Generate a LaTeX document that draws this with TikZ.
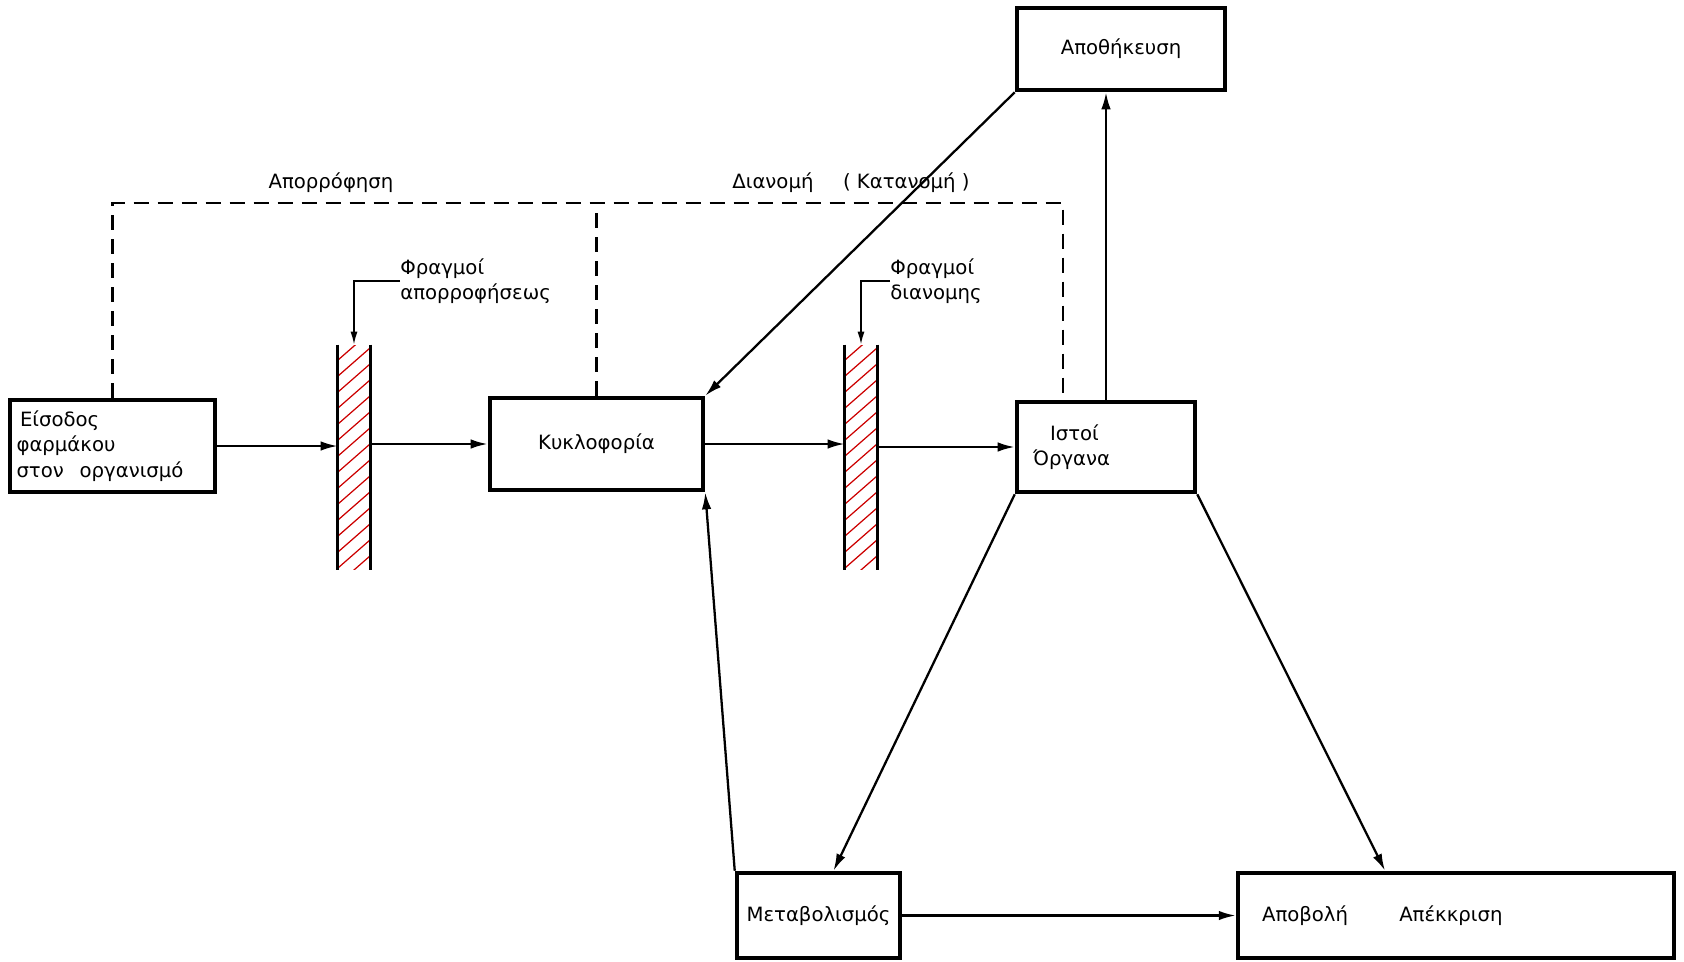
\documentclass[tikz,border=0pt]{standalone}
\usepackage{fontspec}
\setmainfont{DejaVu Sans}
\usetikzlibrary{arrows.meta}

\tikzset{
  >={Latex[length=0.34cm,width=0.19cm]},
  box/.style={draw, line width=2.6pt, inner sep=0pt},
  flow/.style={->, line width=1.3pt},
  lead/.style={-{Latex[length=0.26cm,width=0.14cm]}, line width=1pt},
  link/.style={line width=1.4pt, dash pattern=on 0.3cm off 0.18cm},
  wall/.style={line width=2pt},
  hatch/.style={red!80!black, line width=0.7pt},
  barrier/.style={minimum width=0.64cm, minimum height=4.5cm, inner sep=0pt,
    path picture={\foreach \k in {0,...,16}
      \draw[hatch] ([yshift=\k*0.32cm-0.6cm]path picture bounding box.south west) -- ++(0.64cm,0.56cm);}},
  lbl/.style={inner sep=0pt}
}

\begin{document}
\begin{tikzpicture}[x=0.02cm, y=-0.02cm, font=\fontsize{11.2}{14.5}\selectfont]
\useasboundingbox (0,0) rectangle (1684,961);

% boxes
\node[box, minimum width=4.1cm, minimum height=1.84cm, text width=3.84cm, align=left] (in) at (112.5,446)
  {\hspace*{2pt}Είσοδος\\φαρμάκου\\στον\hspace{0.8em}οργανισμό};
\node[box, minimum width=4.26cm, minimum height=1.84cm] (circ) at (596.5,444) {Κυκλοφορία};
\node[box, minimum width=3.56cm, minimum height=1.8cm, text width=2.92cm, align=left] (tis) at (1106,447)
  {\hspace*{0.34cm}Ιστοί\\Όργανα};
\node[box, minimum width=4.16cm, minimum height=1.64cm] (store) at (1121,49) {Αποθήκευση};
\node[box, minimum width=3.26cm, minimum height=1.7cm] (met) at (818.5,915.5) {Μεταβολισμός};
\node[box, minimum width=8.72cm, minimum height=1.7cm, text width=7.76cm, align=left] (out) at (1456,915.5)
  {Αποβολή\hspace{2.6em}Απέκκριση};

% barriers
\node[barrier] (bar1) at (354,457.5) {};
\node[barrier] (bar2) at (861,457.5) {};
\draw[wall] (bar1.north west) -- (bar1.south west) (bar1.north east) -- (bar1.south east);
\draw[wall] (bar2.north west) -- (bar2.south west) (bar2.north east) -- (bar2.south east);

% labels
\node[lbl, anchor=west, align=left] (fr1) at (400,281) {Φραγμοί\\απορροφήσεως};
\node[lbl, anchor=west, align=left] (fr2) at (890,281) {Φραγμοί\\διανομης};
\node[lbl] (abs) at (331,183) {Απορρόφηση};
\node[lbl] (dist) at (851,183) {Διανομή\hspace{1.5em}(\ Κατανομή\ )};

% dashed phases
\coordinate (corner) at (1063,203);
\draw[link] (in.north) |- (corner) -- (corner |- tis.north);
\draw[link] (circ.north) -- (circ.north |- corner);

% flows
\draw[flow] (in.east) -- (in.east -| bar1.west);
\draw[flow] (bar1.east |- circ.west) -- (circ.west);
\draw[flow] (circ.east) -- (circ.east -| bar2.west);
\draw[flow] (bar2.east |- tis.west) -- (tis.west);
\draw[flow] (tis.north) -- (tis.north |- store.south);
\draw[flow] (store.south west) -- (circ.north east);
\draw[flow] (tis.south west) -- ([xshift=0.3cm]met.north);
\draw[flow] (tis.south east) -- ([xshift=-1.42cm]out.north);
\draw[flow] (met.north west) -- (circ.south east);
\draw[flow] (met.east) -- (out.west);
\draw[lead] (fr1.west) -| (bar1.north);
\draw[lead] (fr2.west) -| (bar2.north);
\end{tikzpicture}
\end{document}
